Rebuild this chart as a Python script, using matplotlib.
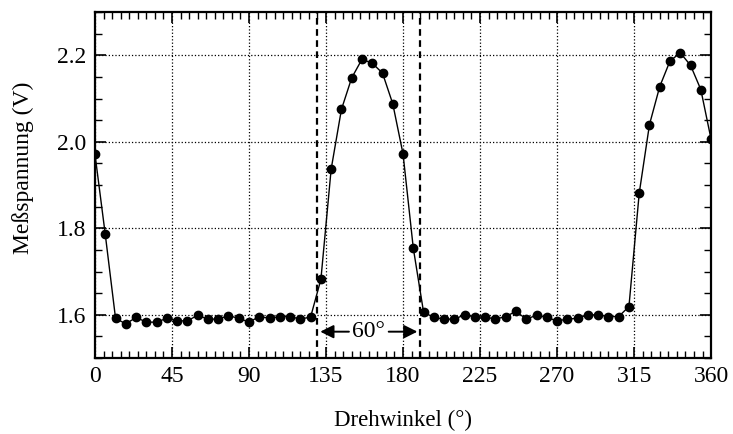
import numpy as np
import matplotlib.pyplot as plt
from matplotlib.ticker import MultipleLocator

plt.rcParams['font.family'] = ['Liberation Serif', 'DejaVu Serif']

# rotation angle (deg) and measured voltage (V)
angle = np.arange(0, 361, 6)
voltage = [1.971, 1.786, 1.592, 1.579, 1.594, 1.583, 1.583, 1.592, 1.586, 1.586,
           1.599, 1.590, 1.590, 1.598, 1.592, 1.583, 1.596, 1.592, 1.596, 1.596,
           1.590, 1.595, 1.682, 1.937, 2.075, 2.148, 2.191, 2.182, 2.159, 2.088,
           1.972, 1.754, 1.606, 1.594, 1.590, 1.590, 1.600, 1.595, 1.595, 1.590,
           1.596, 1.608, 1.590, 1.599, 1.594, 1.586, 1.590, 1.592, 1.600, 1.600,
           1.596, 1.596, 1.619, 1.881, 2.040, 2.128, 2.187, 2.206, 2.177, 2.121,
           2.006]

xticks = [0, 45, 90, 135, 180, 225, 270, 315, 360]
yticks = [1.6, 1.8, 2.0, 2.2]
marker_lines = [130, 190]

fig = plt.figure(figsize=(7.33, 4.34), dpi=100)
ax = fig.add_axes([0.1296, 0.175, 0.8405, 0.797])

ax.plot(angle, voltage, color='black', lw=1.0, marker='o', ms=6, zorder=3)

for xv in marker_lines:
    ax.axvline(xv, color='black', lw=1.6, ls=(0, (3, 2)), zorder=2)

# 60 degree span arrows
ax.annotate('', xy=(130, 1.561), xytext=(150, 1.561),
            arrowprops=dict(arrowstyle='-|>', color='black', lw=1.4, mutation_scale=20))
ax.annotate('', xy=(190, 1.561), xytext=(170, 1.561),
            arrowprops=dict(arrowstyle='-|>', color='black', lw=1.4, mutation_scale=20))
ax.text(160, 1.561, '60°', ha='center', va='center', fontsize=17)

ax.set_xlim(0, 360)
ax.set_ylim(1.5, 2.3)
ax.set_xticks(xticks)
ax.set_yticks(yticks)
ax.set_yticklabels([f'{v:.1f}' for v in yticks])
ax.xaxis.set_minor_locator(MultipleLocator(5))
ax.yaxis.set_minor_locator(MultipleLocator(0.05))
ax.tick_params(which='both', direction='in', top=True, right=True, labelsize=17,
               colors='black', pad=6)
ax.tick_params(which='major', length=8, width=1.2)
ax.tick_params(which='minor', length=5, width=1.0)
ax.grid(True, which='major', color='black', ls=':', lw=0.9)

for s in ax.spines.values():
    s.set_linewidth(1.6)

ax.set_xlabel('Drehwinkel (°)', fontsize=16.5)
ax.set_ylabel('Meßspannung (V)', fontsize=17)
ax.xaxis.set_label_coords(0.5, -0.15)
ax.yaxis.set_label_coords(-0.099, 0.55)

fig.savefig('out.png', dpi=100)
